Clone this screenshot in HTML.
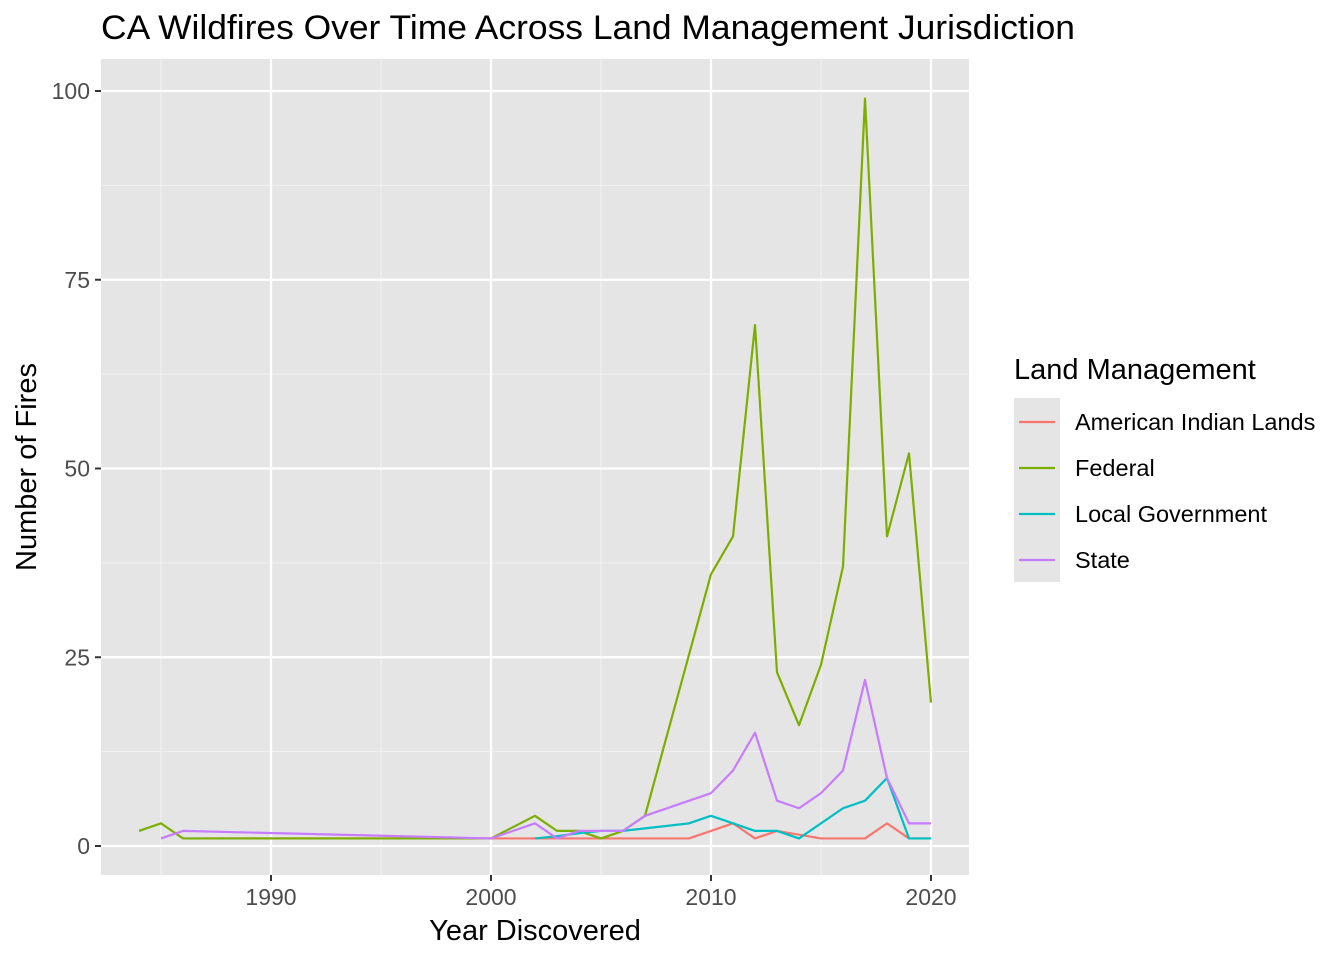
<!DOCTYPE html>
<html><head><meta charset="utf-8"><style>
body{margin:0;background:#fff;font-family:"Liberation Sans",Arial,sans-serif;}
svg text{font-family:"Liberation Sans",Arial,sans-serif;}
</style></head><body>
<svg id="chart" width="1344" height="960" xmlns="http://www.w3.org/2000/svg">
<text x="101" y="39" font-size="34" textLength="974" lengthAdjust="spacingAndGlyphs" fill="#000">CA Wildfires Over Time Across Land Management Jurisdiction</text>
<rect x="101" y="59" width="868" height="816" fill="#e5e5e5"/>
<g id="grid"></g>
<g id="series"></g>
<g id="axes"></g>
<text x="535" y="940" font-size="29" text-anchor="middle">Year Discovered</text>
<text transform="translate(36,467) rotate(-90)" font-size="29" text-anchor="middle">Number of Fires</text>
<g>
<text x="1014" y="379" font-size="29">Land Management</text>
<rect x="1014" y="398" width="46" height="184" fill="#e5e5e5"/>
<g id="legend"></g>
</g>
</svg>
<script>
const seriesNames=["American Indian Lands","Federal","Local Government","State"];
const colors=["#F8766D","#7CAE00","#00BFC4","#C77CFF"];
const xTicks=[1990,2000,2010,2020];
const yTicks=[0,25,50,75,100];
const aiYears=[1987,2000,2007,2009,2010,2011,2012,2013,2015,2016,2017,2018,2019,2020];
const aiVals=[1,1,1,1,2,3,1,2,1,1,1,3,1,1];
const fedYears=[1984,1985,1986,2000,2002,2003,2004,2005,2006,2007,2010,2011,2012,2013,2014,2015,2016,2017,2018,2019,2020];
const fedVals=[2,3,1,1,4,2,2,1,2,4,36,41,69,23,16,24,37,99,41,52,19];
const locYears=[2002,2003,2004,2005,2006,2009,2010,2011,2012,2013,2014,2016,2017,2018,2019,2020];
const locVals=[1,1.3,1.7,2,2,3,4,3,2,2,1,5,6,9,1,1];
const stYears=[1985,1986,2000,2002,2003,2004,2006,2007,2010,2011,2012,2013,2014,2015,2016,2017,2018,2019,2020];
const stVals=[1,2,1,3,1,2,2,4,7,10,15,6,5,7,10,22,9,3,3];
const NS="http://www.w3.org/2000/svg";
const X=y=>491+(y-2000)*22;
const Y=v=>846-v*7.55;
function mk(t,a,p){const e=document.createElementNS(NS,t);for(const k in a)e.setAttribute(k,a[k]);p.appendChild(e);return e;}
const grid=document.getElementById('grid'),axes=document.getElementById('axes');
[1985,1995,2005,2015].forEach(t=>{const l=mk('line',{x1:X(t),x2:X(t),y1:59,y2:875,stroke:'#f2f2f2','stroke-width':1.1},grid);

});
[12.5,37.5,62.5,87.5].forEach(t=>{const l=mk('line',{x1:101,x2:969,y1:Y(t),y2:Y(t),stroke:'#f2f2f2','stroke-width':1.1},grid);

});
xTicks.forEach(t=>{const l=mk('line',{x1:X(t),x2:X(t),y1:59,y2:875,stroke:'#fff','stroke-width':2.2},grid);


const k=mk('line',{x1:X(t),x2:X(t),y1:875,y2:881,stroke:'#333','stroke-width':2},axes);


const tx=mk('text',{x:X(t),y:905,'font-size':23,fill:'#4d4d4d','text-anchor':'middle'},axes);tx.textContent=t;

});
yTicks.forEach(t=>{const l=mk('line',{x1:101,x2:969,y1:Y(t),y2:Y(t),stroke:'#fff','stroke-width':2.2},grid);


const k=mk('line',{x1:95,x2:101,y1:Y(t),y2:Y(t),stroke:'#333','stroke-width':2},axes);


const tx=mk('text',{x:90,y:Y(t)+8,'font-size':23,fill:'#4d4d4d','text-anchor':'end'},axes);tx.textContent=t;

});
const data=[[aiYears,aiVals],[fedYears,fedVals],[locYears,locVals],[stYears,stVals]];
const sg=document.getElementById('series');
data.forEach((d,i)=>{const pts=d[0].map((y,j)=>X(y)+','+Y(d[1][j])).join(' ');
const p=mk('polyline',{points:pts,fill:'none',stroke:colors[i],'stroke-width':2.2,'stroke-linejoin':'round'},sg);

});
const lg=document.getElementById('legend');
seriesNames.forEach((n,i)=>{const y=422+i*46;
const l=mk('line',{x1:1019,x2:1055,y1:y,y2:y,stroke:colors[i],'stroke-width':2.2},lg);


const t=mk('text',{x:1075,y:y+8,'font-size':23.5,fill:'#000'},lg);t.textContent=n;

});
</script>
</body></html>
